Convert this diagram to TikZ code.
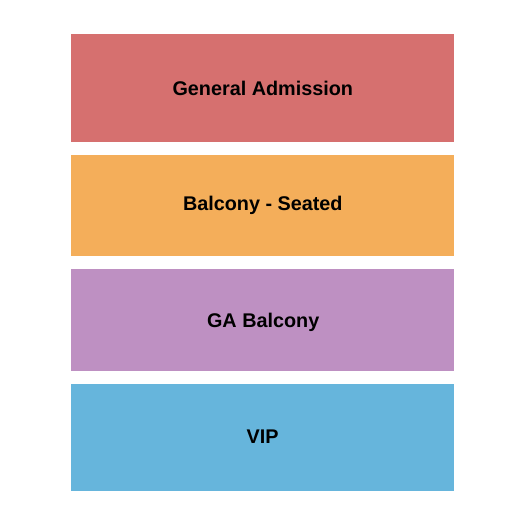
\documentclass[tikz,border=0pt]{standalone}
\usepackage{fontspec}
\setmainfont{Liberation Sans}
\definecolor{gared}{HTML}{D6706F}
\definecolor{balorange}{HTML}{F4AE5A}
\definecolor{gapurple}{HTML}{BE90C2}
\definecolor{vipblue}{HTML}{66B5DC}
\begin{document}
\begin{tikzpicture}[x=1pt,y=-1pt,
  section/.style={draw=none,inner sep=0pt,anchor=base,font=\fontsize{19.8}{22}\selectfont\bfseries,text=black}]
\useasboundingbox (0,0) rectangle (525,525);
\fill[white] (0,0) rectangle (525,525);
\fill[gared] (71,34) rectangle (454,142);
\node[section] (ga) at (262.8,95) {General Admission};
\fill[balorange] (71,155) rectangle (454,256);
\node[section] (bs) at (262.8,210.7) {Balcony - Seated};
\fill[gapurple] (71,269) rectangle (454,371);
\node[section] (gab) at (263.2,327.7) {GA Balcony};
\fill[vipblue] (71,384) rectangle (454,491);
\node[section] (vip) at (262.5,443.3) {VIP};
\end{tikzpicture}
\end{document}
